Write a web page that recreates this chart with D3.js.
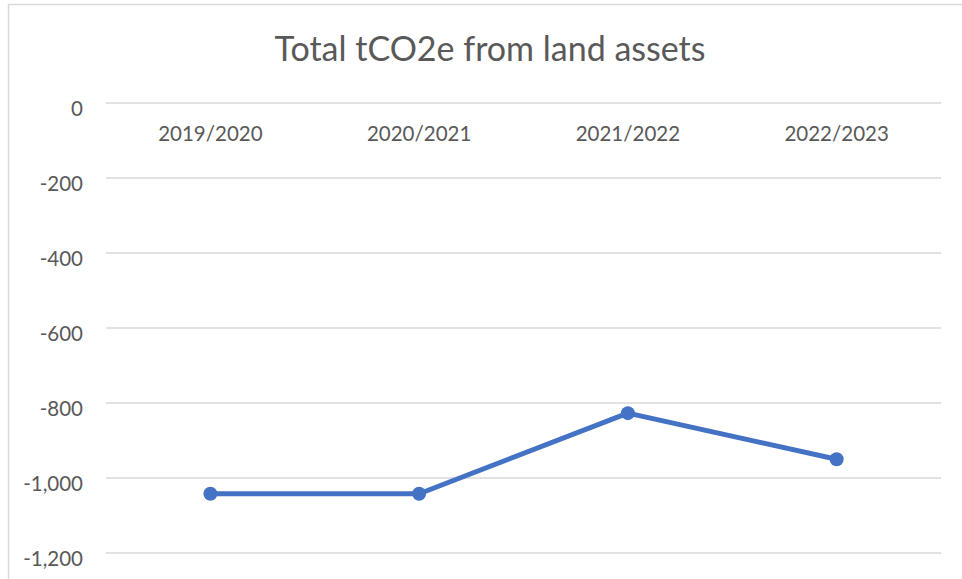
<!DOCTYPE html>
<html>
<head>
<meta charset="utf-8">
<script src="https://cdn.jsdelivr.net/npm/d3@7"></script>
<style>
  body { margin: 0; background: #fff; }
  svg { display: block; font-family: Lato, "Open Sans", sans-serif; }
</style>
</head>
<body>
<script>
var categories = ["2019/2020", "2020/2021", "2021/2022", "2022/2023"];
var values = [-1042, -1042, -827, -950];
var yTicks = [0, -200, -400, -600, -800, -1000, -1200];
var chartTitle = "Total tCO2e from land assets";

var width = 962, height = 579;
var margin = {top: 103, right: 21, bottom: 26, left: 106};

var svg = d3.select("body").append("svg")
    .attr("width", width).attr("height", height);

// chart frame
svg.append("path")
    .attr("d", "M8.5," + height + "V4.5H" + width)
    .attr("fill", "none").attr("stroke", "#d9d9d9").attr("stroke-width", 1.5);

var x = d3.scaleBand().domain(categories)
    .range([margin.left, width - margin.right]);
var y = d3.scaleLinear().domain([0, -1200])
    .range([margin.top, height - margin.bottom]);

// gridlines
svg.append("g").selectAll("line").data(yTicks).enter().append("line")
    .attr("x1", margin.left).attr("x2", width - margin.right)
    .attr("y1", function(d) { return y(d); })
    .attr("y2", function(d) { return y(d); })
    .attr("stroke", "#d9d9d9").attr("stroke-width", 1.5);

// y labels
var fmt = d3.format(",");
svg.append("g").selectAll("text").data(yTicks).enter().append("text")
    .attr("x", 83).attr("y", function(d) { return y(d) + 12.5; })
    .attr("text-anchor", "end")
    .attr("font-size", 20.5).attr("fill", "#595959")
    .text(function(d) { return d === 0 ? "0" : "-" + fmt(-d); });

// category labels (sit just under the zero line)
svg.append("g").selectAll("text").data(categories).enter().append("text")
    .attr("x", function(d) { return x(d) + x.bandwidth() / 2; })
    .attr("y", 141).attr("text-anchor", "middle")
    .attr("font-size", 20.5).attr("fill", "#595959")
    .text(function(d) { return d; });

// title
svg.append("text")
    .attr("x", 490).attr("y", 61).attr("text-anchor", "middle")
    .attr("font-size", 34).attr("fill", "#595959")
    .text(chartTitle);

var line = d3.line()
    .x(function(d, i) { return x(categories[i]) + x.bandwidth() / 2; })
    .y(function(d) { return y(d); });

svg.append("path").datum(values)
    .attr("d", line).attr("fill", "none")
    .attr("stroke", "#4472c4").attr("stroke-width", 5)
    .attr("stroke-linejoin", "round");

svg.append("g").selectAll("circle").data(values).enter().append("circle")
    .attr("cx", function(d, i) { return x(categories[i]) + x.bandwidth() / 2; })
    .attr("cy", function(d) { return y(d); })
    .attr("r", 7).attr("fill", "#4472c4");
</script>
</body>
</html>
